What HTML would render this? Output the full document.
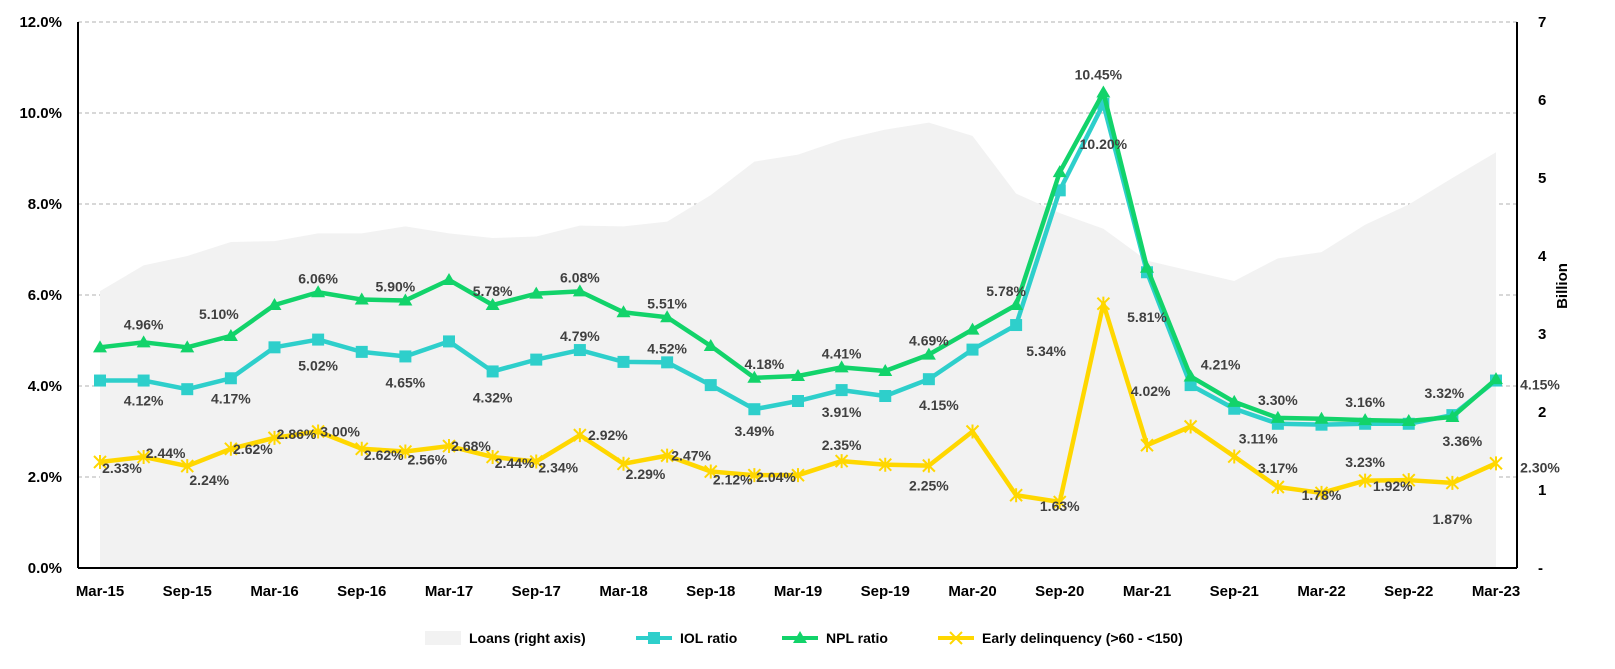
<!DOCTYPE html>
<html><head><meta charset="utf-8"><style>
body{margin:0;background:#fff;font-family:"Liberation Sans",sans-serif;}
svg text{font-family:"Liberation Sans",sans-serif;font-weight:bold;}
</style></head><body>
<svg id="c" width="1615" height="664" viewBox="0 0 1615 664" xmlns="http://www.w3.org/2000/svg"></svg>
<script>
const categories=["Mar-15","Jun-15","Sep-15","Dec-15","Mar-16","Jun-16","Sep-16","Dec-16","Mar-17","Jun-17","Sep-17","Dec-17","Mar-18","Jun-18","Sep-18","Dec-18","Mar-19","Jun-19","Sep-19","Dec-19","Mar-20","Jun-20","Sep-20","Dec-20","Mar-21","Jun-21","Sep-21","Dec-21","Mar-22","Jun-22","Sep-22","Dec-22","Mar-23"];
const loans=[3.55,3.88,4.0,4.18,4.19,4.29,4.29,4.38,4.29,4.23,4.25,4.39,4.38,4.44,4.78,5.21,5.3,5.49,5.62,5.71,5.54,4.8,4.55,4.35,3.94,3.81,3.68,3.97,4.05,4.4,4.66,5.0,5.33];
const iol=[4.12,4.12,3.93,4.17,4.85,5.02,4.75,4.65,4.98,4.32,4.58,4.79,4.53,4.52,4.02,3.49,3.67,3.91,3.78,4.15,4.8,5.34,8.3,10.2,6.5,4.02,3.5,3.17,3.15,3.17,3.17,3.36,4.12];
const npl=[4.85,4.96,4.85,5.10,5.78,6.06,5.90,5.88,6.33,5.78,6.03,6.08,5.62,5.51,4.88,4.18,4.22,4.41,4.33,4.69,5.24,5.78,8.7,10.45,6.6,4.21,3.65,3.30,3.28,3.25,3.23,3.32,4.15];
const early=[2.33,2.44,2.24,2.62,2.86,3.00,2.62,2.56,2.68,2.44,2.34,2.92,2.29,2.47,2.12,2.04,2.04,2.35,2.27,2.25,3.0,1.6,1.45,5.81,2.7,3.11,2.45,1.78,1.65,1.92,1.93,1.87,2.30];
const leftTicks=["0.0%","2.0%","4.0%","6.0%","8.0%","10.0%","12.0%"];
const rightTicks=["-","1","2","3","4","5","6","7"];
const xTickEvery=2;
// labels: [index, text, dx, dy]
const nplLabels=[[1,"4.96%",0,-18],[3,"5.10%",-12,-22],[5,"6.06%",0,-14],[7,"5.90%",-10,-14],[9,"5.78%",0,-14],[11,"6.08%",0,-14],[13,"5.51%",0,-14],[15,"4.18%",10,-14],[17,"4.41%",0,-14],[19,"4.69%",0,-14],[21,"5.78%",-10,-14],[23,"10.45%",-5,-18],[25,"4.21%",30,-12],[27,"3.30%",0,-18],[29,"3.16%",0,-18],[31,"3.32%",-8,-24]];
const iolLabels=[[1,"4.12%",0,20],[3,"4.17%",0,20],[5,"5.02%",0,26],[7,"4.65%",0,26],[9,"4.32%",0,26],[11,"4.79%",0,-14],[13,"4.52%",0,-14],[15,"3.49%",0,22],[17,"3.91%",0,22],[19,"4.15%",10,26],[21,"5.34%",30,26],[23,"10.20%",0,40],[25,"4.02%",-40,6],[27,"3.17%",0,44],[29,"3.23%",0,38],[31,"3.36%",10,26],[32,"4.15%",44,4]];
const earlyLabels=[[0,"2.33%",22,6],[1,"2.44%",22,-4],[2,"2.24%",22,14],[3,"2.62%",22,0],[4,"2.86%",22,-4],[5,"3.00%",22,0],[6,"2.62%",22,6],[7,"2.56%",22,8],[8,"2.68%",22,0],[9,"2.44%",22,6],[10,"2.34%",22,6],[11,"2.92%",28,0],[12,"2.29%",22,10],[13,"2.47%",24,0],[14,"2.12%",22,8],[16,"2.04%",-22,2],[17,"2.35%",0,-16],[19,"2.25%",0,20],[22,"1.63%",0,4],[24,"5.81%",0,-128],[26,"3.11%",24,-18],[28,"1.78%",0,2],[30,"1.92%",-16,6],[31,"1.87%",0,36],[32,"2.30%",44,4]];
const X0=100,X1=1496,Y0=568,Y1=22;
const x=i=>X0+(X1-X0)*i/(categories.length-1);
const yL=v=>Y0-(Y0-Y1)*v/12;
const yR=v=>Y0-(Y0-Y1)*v/7;
const svg=document.getElementById('c');
const NS="http://www.w3.org/2000/svg";
function mk(t,a,p){const e=document.createElementNS(NS,t);for(const k in a)e.setAttribute(k,a[k]);(p||svg).appendChild(e);return e;}
// grid
for(let i=1;i<leftTicks.length;i++){const g=mk('line',{x1:X0-22,x2:1517,y1:yL(i*2),y2:yL(i*2),stroke:'#b0b0b0','stroke-dasharray':'4,3','stroke-width':1});

}
// area
let d=`M${x(0)},${Y0}`;loans.forEach((v,i)=>d+=` L${x(i)},${yR(v)}`);d+=` L${x(loans.length-1)},${Y0} Z`;
const ar=mk('path',{d,fill:'#f2f2f2'});


// axes
const la=mk('line',{x1:78,x2:78,y1:Y1,y2:Y0,stroke:'#000','stroke-width':2});

const ra=mk('line',{x1:1517,x2:1517,y1:Y1,y2:Y0,stroke:'#000','stroke-width':2});

const ba=mk('line',{x1:78,x2:1517,y1:Y0,y2:Y0,stroke:'#000','stroke-width':2});

leftTicks.forEach((t,i)=>{const e=mk('text',{x:62,y:yL(i*2)+5,'text-anchor':'end','font-size':15,fill:'#000'});e.textContent=t;

});
rightTicks.forEach((t,i)=>{const e=mk('text',{x:1538,y:yR(i)+5,'font-size':15,fill:'#000'});e.textContent=t;

});
const bt=mk('text',{x:0,y:0,'font-size':15,'text-anchor':'middle',transform:'translate(1567,286) rotate(-90)'});bt.textContent='Billion';

categories.forEach((c,i)=>{if(i%xTickEvery)return;const e=mk('text',{x:x(i),y:596,'text-anchor':'middle','font-size':15,fill:'#000'});e.textContent=c;

});
function series(vals,color,marker,name){
 const g=mk('g',{});
 
 
 mk('polyline',{points:vals.map((v,i)=>x(i)+','+yL(v)).join(' '),fill:'none',stroke:color,'stroke-width':4.5,'stroke-linejoin':'round'},g);
 vals.forEach((v,i)=>{const cx=x(i),cy=yL(v);let m;
  if(marker==='sq')m=mk('rect',{x:cx-6,y:cy-6,width:12,height:12,fill:color},g);
  else if(marker==='tri')m=mk('polygon',{points:`${cx},${cy-7} ${cx-7},${cy+5} ${cx+7},${cy+5}`,fill:color},g);
  else m=mk('path',{d:`M${cx-6},${cy-6}L${cx+6},${cy+6}M${cx+6},${cy-6}L${cx-6},${cy+6}M${cx},${cy-7}L${cx},${cy+7}`,stroke:color,'stroke-width':2},g);
  
  });
}
series(early,'#ffd700','x','early-delinquency');
series(iol,'#2ecfcb','sq','iol-ratio');
series(npl,'#12d36a','tri','npl-ratio');
function labels(arr,vals,name){arr.forEach(([i,t,dx,dy])=>{const e=mk('text',{x:x(i)+dx,y:yL(vals[i])+dy+5,'text-anchor':'middle','font-size':14,fill:'#404040'});e.textContent=t;
 
 });}
labels(nplLabels,npl,'npl');labels(iolLabels,iol,'iol');labels(earlyLabels,early,'early');
// legend
const lg=mk('g',{});
const items=[['Loans (right axis)','area','#f2f2f2',425],['IOL ratio','sq','#2ecfcb',636],['NPL ratio','tri','#12d36a',782],['Early delinquency (>60 - <150)','x','#ffd700',938]];
items.forEach(([t,k,c,lx])=>{const gi=mk('g',{},lg);
 
 
 const cy=638;
 if(k==='area')mk('rect',{x:lx,y:cy-7,width:36,height:14,fill:c},gi);
 else{mk('line',{x1:lx,x2:lx+36,y1:cy,y2:cy,stroke:c,'stroke-width':4},gi);
  if(k==='sq')mk('rect',{x:lx+12,y:cy-6,width:12,height:12,fill:c},gi);
  else if(k==='tri')mk('polygon',{points:`${lx+18},${cy-7} ${lx+11},${cy+5} ${lx+25},${cy+5}`,fill:c},gi);
  else mk('path',{d:`M${lx+12},${cy-6}L${lx+24},${cy+6}M${lx+24},${cy-6}L${lx+12},${cy+6}`,stroke:c,'stroke-width':2},gi);}
 const e=mk('text',{x:lx+44,y:cy+5,'font-size':14,fill:'#000'},gi);e.textContent=t;});
</script>
</body></html>
